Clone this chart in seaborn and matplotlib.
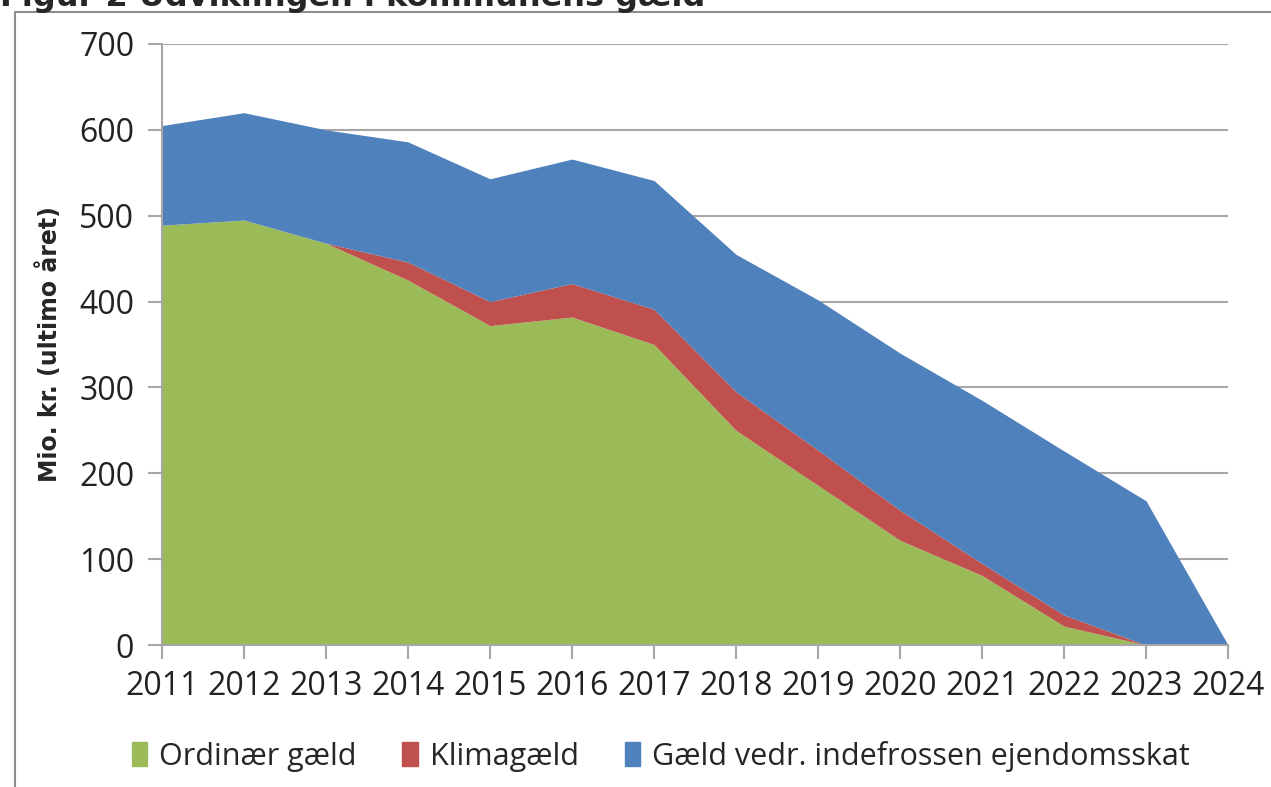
import numpy as np
import pandas as pd
import matplotlib
matplotlib.use("Agg")
import matplotlib.pyplot as plt
import seaborn as sns
from matplotlib.patches import Rectangle

years = [2011, 2012, 2013, 2014, 2015, 2016, 2017, 2018, 2019, 2020, 2021, 2022, 2023, 2024]
ordinaer = [489, 495, 468, 425, 372, 382, 350, 250, 186, 122, 81, 22, 0, 0]
klima = [0, 0, 0, 21, 28, 39, 41, 45, 41, 35, 14, 13, 0, 0]
ejendomsskat = [116, 125, 132, 140, 143, 145, 150, 160, 175, 183, 190, 191, 168, 0]
labels = ["Ordinær gæld", "Klimagæld", "Gæld vedr. indefrossen ejendomsskat"]
colors = ["#9BBB59", "#C0504D", "#4F81BD"]

df = pd.DataFrame({"år": years, labels[0]: ordinaer, labels[1]: klima, labels[2]: ejendomsskat})

sns.set_theme(style="white")
plt.rcParams["font.family"] = ["Open Sans", "DejaVu Sans"]

fig = plt.figure(figsize=(12.71, 7.87), dpi=100)
ax = fig.add_axes([162 / 1271, 142 / 787, 1066 / 1271, 601 / 787])

ax.stackplot(df["år"], df[labels[0]], df[labels[1]], df[labels[2]],
             colors=colors, labels=labels, linewidth=0, zorder=2)

ax.set_xlim(2011, 2024)
ax.set_ylim(0, 700)
ax.set_xticks(years)
ax.set_yticks(range(0, 701, 100))
ax.yaxis.grid(True, color="#A6A6A6", linewidth=1.5, zorder=0)
ax.set_axisbelow(True)
ax.tick_params(axis="both", labelsize=23, labelcolor="#222222", length=10, width=1.5,
               direction="out", color="#A6A6A6", bottom=True, left=True)
ax.tick_params(axis="x", pad=8)
ax.tick_params(axis="y", pad=10)
sns.despine(ax=ax, top=True, right=True)
for s in ["left", "bottom"]:
    ax.spines[s].set_color("#A6A6A6")
    ax.spines[s].set_linewidth(1.5)

ax.set_ylabel("Mio. kr. (ultimo året)", fontsize=17, fontweight="bold",
              family=["DejaVu Sans"], labelpad=12)

handles = [Rectangle((0, 0), 1, 1, color=c) for c in colors]
fig.legend(handles, labels, loc="center left", bbox_to_anchor=(104 / 1271, 1 - 756 / 787),
           ncol=3, frameon=False, fontsize=22, handlelength=0.5, handleheight=0.85,
           handletextpad=0.4, columnspacing=1.5)

# outer frame and clipped title
fig.patches.append(Rectangle((15 / 1271, -0.05), 1.2, 1 - 12 / 787 + 0.05,
                             transform=fig.transFigure, fill=False,
                             edgecolor="#8C8C8C", linewidth=1.5))
fig.text(0.0, 1 - 6 / 787, "Figur 2 Udviklingen i kommunens gæld", fontsize=23,
         fontweight="bold", family=["DejaVu Sans"], va="baseline", ha="left")

fig.savefig("out.png", dpi=100)
